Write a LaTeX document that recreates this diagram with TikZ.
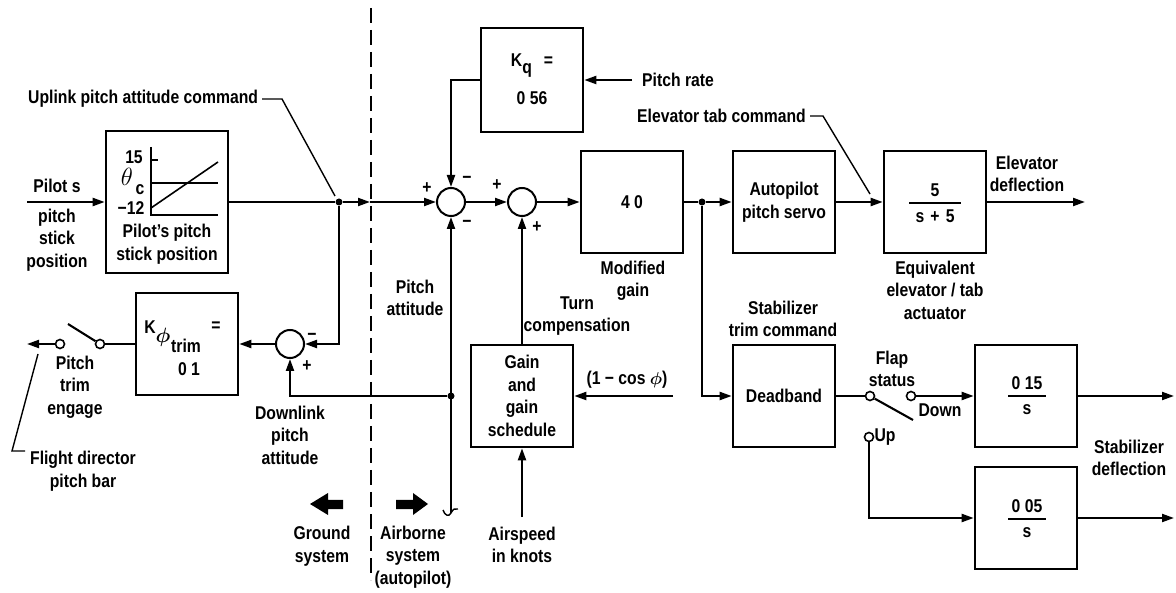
\documentclass[tikz,border=0pt]{standalone}
\usepackage{bm}
\usepackage{fontspec}
\setmainfont{Liberation Sans}[FakeStretch=0.85]
\usetikzlibrary{arrows.meta}
\begin{document}
\begin{tikzpicture}[x=1pt,y=-1pt,
  txt/.style={font=\fontsize{18.5}{22.5}\selectfont\bfseries, inner sep=0pt, align=center},
  blk/.style={draw, line width=2.6pt, inner sep=0pt, minimum width=102pt, minimum height=102pt},
  sumj/.style={draw, circle, line width=2pt, inner sep=0pt, minimum size=28pt},
  jdot/.style={fill, circle, inner sep=0pt, minimum size=7pt},
  cont/.style={draw, circle, line width=1.6pt, fill=white, inner sep=0pt, minimum size=9pt},
  ln/.style={line width=2.1pt},
  arr/.style={ln, -{Triangle[length=12pt,width=8pt]}},
  lead/.style={line width=1.4pt},
  thin/.style={line width=1.6pt},
]
\useasboundingbox (0,0) rectangle (1176,593);
% blocks
\node[blk, minimum width=122pt, minimum height=142pt] (stick) at (167,202) {};
\node[blk] (ktrim) at (187,344) {};
\node[blk, minimum height=104pt] (kq) at (532,80) {};
\node[blk] (g40) at (632,202) {};
\node[blk] (gsch) at (522,396) {};
\node[blk] (servo) at (784,202) {};
\node[blk] (equiv) at (935,202) {};
\node[blk] (dead) at (784,396) {};
\node[blk] (s015) at (1026,396) {};
\node[blk] (s005) at (1026,518) {};
% summing junctions
\node[sumj] (s1) at (451,202) {};
\node[sumj] (s2) at (522,202) {};
\node[sumj] (s3) at (290,344) {};
% dots
\node[jdot] (j1) at (339,202) {};
\node[jdot] (j2) at (451,396) {};
\node[jdot] (j3) at (702,202) {};
% contacts
\node[cont] (c1) at (100,344) {};
\node[cont] (c2) at (60,344) {};
\node[cont] (c3) at (870,396) {};
\node[cont] (c4) at (911,396) {};
\node[cont] (c5) at (869,437) {};
% coordinates
\coordinate (in0) at (27,202);
\coordinate (dash1) at (370,202);
\coordinate (fdout) at (27,344);
\coordinate (b1) at (68,324);
\coordinate (pa0) at (451,513);
\coordinate (pr0) at (632,80);
\coordinate (cos0) at (673,396);
\coordinate (as0) at (522,517);
\coordinate (eo) at (1085,202);
\coordinate (b2) at (913,420);
\coordinate (o1) at (1174,396);
\coordinate (o2) at (1174,518);
% divider
\coordinate (div0) at (371,8);
\coordinate (div1) at (371,580);
\draw[line width=2pt, dash pattern=on 15pt off 7pt] (div0) -- (div1);
% connectors
\draw[arr] (in0) -- (stick);
\draw[ln] (stick) -- (j1);
\draw[arr] (j1) -- (dash1);
\draw[arr] (dash1) -- (s1);
\draw[arr] (j1) |- (s3);
\draw[arr] (s3) -- (ktrim);
\draw[ln] (ktrim) -- (c1);
\draw[ln] (c1) -- (b1);
\draw[arr] (c2) -- (fdout);
\draw[arr] (j2) -| (s3);
\draw[arr] (pa0) -- (s1);
\draw[arr] (pr0) -- (kq);
\draw[arr] (kq) -| (s1);
\draw[arr] (s1) -- (s2);
\draw[arr] (s2) -- (g40);
\draw[arr] (gsch) -- (s2);
\draw[arr] (cos0) -- (gsch);
\draw[arr] (as0) -- (gsch);
\draw[ln] (g40) -- (j3);
\draw[arr] (j3) -- (servo);
\draw[arr] (j3) |- (dead);
\draw[arr] (servo) -- (equiv);
\draw[arr] (equiv) -- (eo);
\draw[ln] (dead) -- (c3);
\draw[ln] (c3) -- (b2);
\draw[arr] (c4) -- (s015);
\draw[arr] (c5) |- (s005);
\draw[arr] (s015) -- (o1);
\draw[arr] (s005) -- (o2);
% squiggle at pitch attitude source
\draw[lead] (443,510) .. controls (445,516) and (449,517) .. (451,513) .. controls (453,509) and (455,508) .. (458,509);
% stick plot
\draw[thin] (151,147) -- (151,215) -- (218,215);
\draw[thin] (151,160) -- (158,160);
\draw[thin] (151,183) -- (218,183);
\draw[thin] (151,208) -- (218,162);
\node[txt] (t15) at (134,157) {15};
\node[txt, font=\fontsize{24}{24}\selectfont] (ttheta) at (127,177) {$\theta$};
\node[txt] (tc) at (140,190) {c};
\node[txt] (tm12) at (131,208) {−12};
\node[txt] (tstick) at (167,244) {Pilot's pitch\\stick position};
% ktrim
\node[txt] (tK) at (150,327) {K};
\node[txt, font=\fontsize{20}{20}\selectfont] (tphi) at (163,337) {$\bm{\phi}$};
\node[txt] (ttrim) at (186,346) {trim};
\node[txt] (teqk) at (216,327) {=};
\node[txt] (t01) at (189,369) {0 1};
% kq
\node[txt] (tKq1) at (532,66) {K\raisebox{-7pt}{q}\hspace{12pt}=};
\node[txt] (tKq2) at (532,98) {0 56};
% block texts
\node[txt] (t40) at (632,202) {4 0};
\node[txt] (tgsch) at (522,396) {Gain\\and\\gain\\schedule};
\node[txt] (tservo) at (784,202) {Autopilot\\pitch servo};
\node[txt] (t5) at (935,190) {5};
\draw[thin] (909,203) -- (961,203);
\node[txt] (ts5) at (935,216) {s\,\,+\,\,5};
\node[txt] (tdead) at (784,396) {Deadband};
\node[txt] (t015) at (1027,383) {0 15};
\draw[thin] (1008,396) -- (1046,396);
\node[txt] (ts1) at (1027,410) {s};
\node[txt] (t005) at (1027,506) {0 05};
\draw[thin] (1008,519) -- (1046,519);
\node[txt] (ts2) at (1027,533) {s};
% signs
\node[txt] (p1) at (427,188) {+};
\node[txt] (m1) at (467,180) {−};
\node[txt] (m2) at (467,224) {−};
\node[txt] (p2) at (497,185) {+};
\node[txt] (p3) at (537,227) {+};
\node[txt] (m3) at (312,337) {−};
\node[txt] (p4) at (307,366) {+};
% outside labels
\node[txt] (tpilot) at (57,186) {Pilot s};
\node[txt] (tpsp) at (57,240) {pitch\\stick\\position};
\node[txt, anchor=west] (tup) at (28,99) {Uplink pitch attitude command};
\coordinate (upbend) at (282,99);
\coordinate (upend) at (335,196);
\draw[lead] ([xshift=4pt]tup.east) -- (upbend) -- (upend);
\node[txt] (tpte) at (75,387) {Pitch\\trim\\engage};
\node[txt] (tfd) at (83,471) {Flight director\\pitch bar};
\coordinate (fdtop) at (38,354);
\coordinate (fdcorner) at (12,451);
\coordinate (fdstub) at (25,451);
\draw[lead] (fdtop) -- (fdcorner) -- (fdstub);
\node[txt] (tdl) at (290,435) {Downlink\\pitch\\attitude};
\node[txt] (tgs) at (322,546) {Ground\\system};
\node[txt] (tas) at (413,557) {Airborne\\system\\(autopilot)};
\fill (310,504) -- (328,493) -- (328,500) -- (343,500) -- (343,509) -- (328,509) -- (328,515) -- cycle;
\fill (428,504) -- (413,493) -- (413,500) -- (396,500) -- (396,509) -- (413,509) -- (413,515) -- cycle;
\node[txt] (tpa) at (415,298) {Pitch\\attitude};
\node[txt] (tmg) at (633,281) {Modified\\gain};
\node[txt] (ttc) at (577,316) {Turn\\compensation};
\node[txt] (tcos) at (627,380) {(1 − cos $\bm{\phi}$)};
\node[txt] (tair) at (522,545) {Airspeed\\in knots};
\node[txt, anchor=west] (tpr) at (642,80) {Pitch rate};
\node[txt, anchor=west] (tetc) at (637,116) {Elevator tab command};
\coordinate (etbend) at (823,116);
\coordinate (etend) at (870,194);
\draw[lead] ([xshift=4pt]tetc.east) -- (etbend) -- (etend);
\node[txt] (ted) at (1027,174) {Elevator\\deflection};
\node[txt] (teqv) at (935,290) {Equivalent\\elevator / tab\\actuator};
\node[txt] (tstc) at (783,319) {Stabilizer\\trim command};
\node[txt] (tfs) at (892,369) {Flap\\status};
\node[txt] (tdown) at (940,410) {Down};
\node[txt] (tupl) at (885,437) {Up};
\node[txt] (tsd) at (1129,458) {Stabilizer\\deflection};
\end{tikzpicture}
\end{document}
